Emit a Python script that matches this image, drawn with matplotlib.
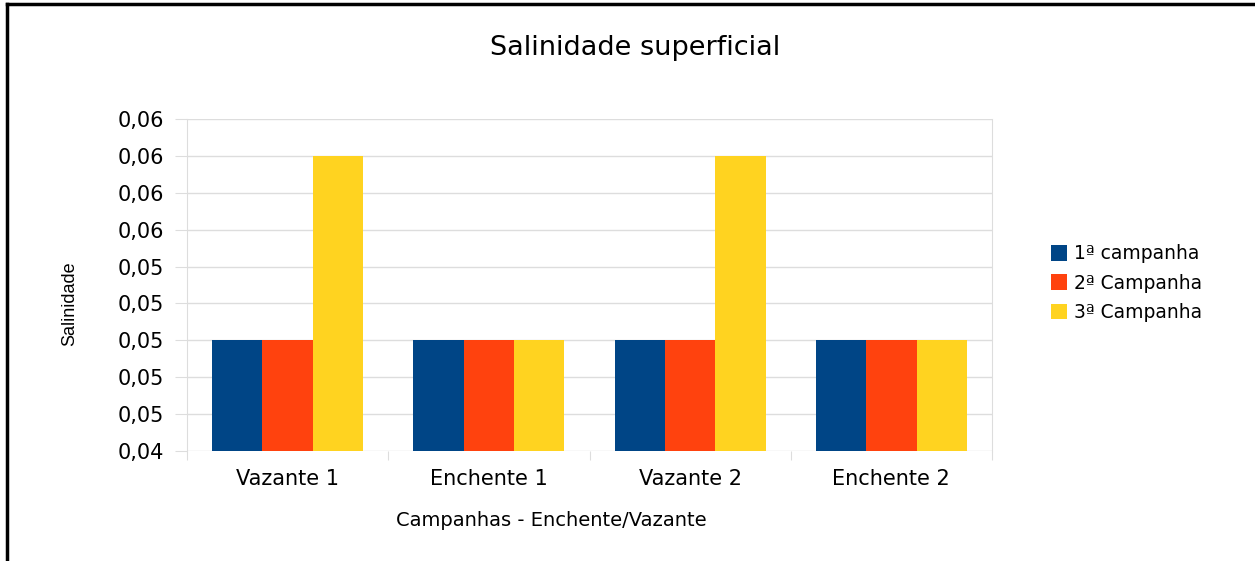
import numpy as np
import matplotlib.pyplot as plt
from matplotlib.lines import Line2D
from matplotlib.ticker import FuncFormatter, MultipleLocator

categories = ['Vazante 1', 'Enchente 1', 'Vazante 2', 'Enchente 2']
series_names = ['1ª campanha', '2ª Campanha', '3ª Campanha']
campanha1 = [0.05, 0.05, 0.05, 0.05]
campanha2 = [0.05, 0.05, 0.05, 0.05]
campanha3 = [0.06, 0.05, 0.06, 0.05]
colors = ['#004586', '#ff420e', '#ffd320']
grid_color = '#dddddd'

plt.rcParams['font.family'] = ['DejaVu Sans']

W, H = 1255, 561
fig = plt.figure(figsize=(W / 100, H / 100), dpi=100)
ax = fig.add_axes([187 / W, 110 / H, 805 / W, 332 / H])

x = np.arange(len(categories))
w = 0.25
for i, (vals, name) in enumerate(zip([campanha1, campanha2, campanha3], series_names)):
    ax.bar(x + (i - 1) * w, vals, width=w, color=colors[i], label=name, zorder=3)

ax.set_xlim(-0.5, len(categories) - 0.5)
ax.set_ylim(0.044, 0.062)
ax.yaxis.set_major_locator(MultipleLocator(0.002))
ax.yaxis.set_major_formatter(FuncFormatter(lambda v, p: f'{v:.2f}'.replace('.', ',')))

# ticks at category boundaries, labels in the middle
ax.set_xticks(np.arange(-0.5, len(categories), 1.0))
ax.set_xticklabels([])
ax.set_xticks(x, minor=True)
ax.set_xticklabels(categories, minor=True, fontsize=15)
ax.tick_params(axis='x', which='minor', length=0, pad=13)
ax.tick_params(axis='x', which='major', length=6.5, color=grid_color)
ax.tick_params(axis='y', length=8.6, color=grid_color, labelsize=15, pad=8)
ax.grid(True, axis='y', color=grid_color, linewidth=1, zorder=0)
ax.spines['top'].set_visible(False)
ax.spines['bottom'].set_visible(False)
ax.spines['left'].set_color(grid_color)
ax.spines['right'].set_color(grid_color)

fig.text(70 / W, 1 - 304 / H, 'Salinidade', rotation=90, ha='center', va='center',
         fontsize=13, family='Liberation Sans')
fig.text(551 / W, 1 - 521 / H, 'Campanhas - Enchente/Vazante',
         ha='center', va='center', fontsize=14)
fig.text(635 / W, 1 - 48 / H, 'Salinidade superficial',
         ha='center', va='center', fontsize=19.5)

ax.legend(loc='center left', bbox_to_anchor=(1043 / W, 1 - 283 / H),
          bbox_transform=fig.transFigure, frameon=False, fontsize=13.5,
          borderaxespad=0, handlelength=0.9, handleheight=0.9,
          handletextpad=0.37, labelspacing=0.55)

# figure border on left and top
fig.add_artist(Line2D([7 / W, 7 / W], [0, 1 - 4 / H], color='black',
                      linewidth=2.5, transform=fig.transFigure))
fig.add_artist(Line2D([7 / W, 1], [1 - 4 / H, 1 - 4 / H], color='black',
                      linewidth=2.5, transform=fig.transFigure))

fig.savefig('out.png', dpi=100)
